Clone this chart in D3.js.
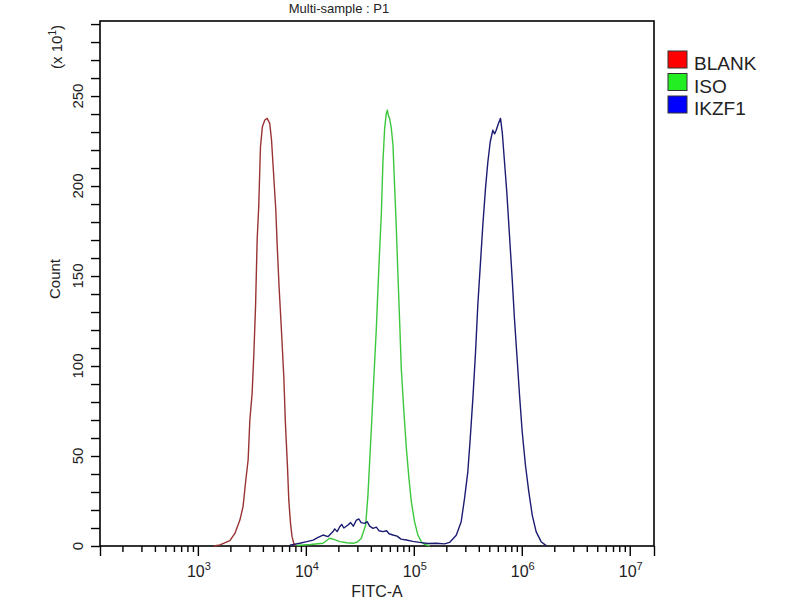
<!DOCTYPE html>
<html>
<head>
<meta charset="utf-8">
<script src="https://cdn.jsdelivr.net/npm/d3@7"></script>
<style>
  body { margin: 0; background: #fff; }
  svg { display: block; font-family: "Liberation Sans", Arial, sans-serif; }
</style>
</head>
<body>
<svg id="chart" width="800" height="600"></svg>
<script>
// FITC-A channel values and counts (x 10^1)
const blankX = [1410, 1600, 1980, 2200, 2450, 2620, 2780, 2920, 3030, 3180, 3300, 3420, 3540, 3660, 3800, 3960, 4170, 4380, 4630, 4810, 4980, 5270, 5420, 5650, 5940, 6250, 6470, 6760, 6950, 7210, 7450, 7730, 8070];
const blankY = [0, 0.6, 3.0, 7.0, 14.4, 21.9, 36.7, 47.8, 70, 84.8, 107, 133, 170, 188.5, 221.8, 233, 236.7, 237.6, 234.8, 225.6, 210.7, 186.7, 168, 144, 120, 94, 68, 44, 25.6, 12.6, 5.2, 1.5, 0];

const isoX = [8180, 11000, 14420, 16630, 18500, 20610, 24000, 27350, 30000, 32660, 35810, 37580, 38990, 40460, 41880, 43350, 44980, 46560, 48310, 50000, 51760, 53700, 55500, 56890, 58200, 59700, 61940, 64120, 66370, 68870, 71290, 73960, 76560, 80540, 85310, 90160, 94840, 101600, 109100, 117200, 125900, 140000];
const isoY = [0.3, 0.8, 1.5, 4.3, 3.5, 2.4, 1.8, 1.5, 2.2, 4.3, 11.7, 28, 46.8, 65.4, 84, 102, 121, 143, 165, 184, 213.5, 232, 240, 242.2, 239, 237.6, 232, 222.8, 200.5, 176.5, 150.6, 124.6, 98.7, 76.5, 54.3, 37.6, 24.6, 13.5, 6.1, 2.4, 0.9, 0];

const ikzfX = [7100, 8790, 10200, 11670, 13000, 14420, 16000, 17860, 18500, 19500, 20610, 21500, 22500, 24550, 26000, 27500, 29380, 31000, 32500, 35080, 37000, 39000, 41880, 45000, 47500, 51760, 56000, 59000, 64120, 70000, 76000, 85310, 98000, 113200, 135000, 161400, 192800, 214300, 247200, 274800, 295100, 316200, 333400, 352400, 373300, 391700, 415000, 435500, 461300, 485300, 510500, 539500, 560000, 579400, 608100, 635300, 659200, 691800, 726100, 769100, 814700, 855100, 905700, 952800, 1009000, 1081000, 1161000, 1250000, 1358000, 1510000, 1683000];
const ikzfY = [0.5, 1.5, 2.4, 3.3, 4.8, 6.1, 5.2, 8, 9.5, 8, 10.7, 12, 10, 11.7, 13, 11, 14.4, 15, 13, 12.6, 13.5, 11, 9.8, 10.5, 8.5, 8, 8.5, 6.8, 6.1, 5.5, 3.8, 3.3, 2.6, 2, 1.4, 1.5, 1.2, 2, 6, 13.5, 26.5, 41, 60, 82, 108, 134, 158, 178, 198.7, 213.5, 224.6, 231, 229, 231, 234.8, 237.6, 230, 213.5, 196.8, 172.8, 148.7, 126.5, 104, 84, 63.5, 45, 30.2, 17.2, 8, 2.4, 0.2];

const seriesNames = ["BLANK", "ISO", "IKZF1"];
const lineColors = ["#993333", "#3cc83c", "#1c1c72"];
const swatchColors = ["#ff0000", "#22ee22", "#0000ff"];

const xDecades = [3, 4, 5, 6, 7];
const yLabelTicks = [0, 50, 100, 150, 200, 250];

const svg = d3.select("#chart");
const margin = {top: 21, right: 146, bottom: 54, left: 100};
const width = 800 - margin.left - margin.right;
const height = 600 - margin.top - margin.bottom;

const x = d3.scaleLog().domain([124, 16777215]).range([margin.left, margin.left + width]);
const y = d3.scaleLinear().domain([0, 291.7]).range([margin.top + height, margin.top]);

// minor ticks: 2..9 in each decade, kept inside the domain
const minorTicks = [];
for (let e = 2; e <= 6; e++) {
    for (let k = 2; k <= 9; k++) {
        const v = k * Math.pow(10, e);
        if (v >= x.domain()[0] && v <= x.domain()[1]) minorTicks.push(v);
    }
}
const majorTicks = xDecades.map(e => Math.pow(10, e));

const g = svg.append("g");

// x axis ticks
g.append("g").attr("transform", `translate(0,${y(0)})`)
    .call(d3.axisBottom(x).tickValues(minorTicks).tickSize(6).tickFormat(""))
    .call(a => a.select(".domain").remove())
    .call(a => a.selectAll("line").attr("stroke-width", 1.4));
g.append("g").attr("transform", `translate(0,${y(0)})`)
    .call(d3.axisBottom(x).tickValues(majorTicks.concat(x.domain())).tickSize(10).tickFormat(""))
    .call(a => a.select(".domain").remove())
    .call(a => a.selectAll("line").attr("stroke-width", 1.4));

// x tick labels with superscript exponents
const xl = g.append("g").selectAll("text").data(xDecades).join("text")
    .attr("x", d => x(Math.pow(10, d)) + 1)
    .attr("y", y(0) + 31)
    .attr("text-anchor", "middle")
    .attr("font-size", 16)
    .attr("fill", "#222");
xl.append("tspan").text("10");
xl.append("tspan").attr("font-size", 11).attr("dy", -7).text(d => d);

// y axis ticks
g.append("g").attr("transform", `translate(${margin.left},0)`)
    .call(d3.axisLeft(y).tickValues(d3.range(0, 291, 10)).tickSize(9).tickFormat(""))
    .call(a => a.select(".domain").remove())
    .call(a => a.selectAll("line").attr("stroke-width", 1.4));

g.append("g").selectAll("text").data(yLabelTicks).join("text")
    .attr("transform", d => `translate(83,${y(d)}) rotate(-90)`)
    .attr("text-anchor", "middle")
    .attr("font-size", 15)
    .attr("fill", "#222")
    .text(d => d);

// plot frame
g.append("rect")
    .attr("x", margin.left).attr("y", margin.top)
    .attr("width", width).attr("height", height)
    .attr("fill", "none").attr("stroke", "#000").attr("stroke-width", 1.6);

// histograms
const line = d3.line().x(d => x(d[0])).y(d => y(d[1]));
const series = [
    d3.zip(blankX, blankY),
    d3.zip(isoX, isoY),
    d3.zip(ikzfX, ikzfY)
];
g.append("g").selectAll("path").data(series).join("path")
    .attr("d", line)
    .attr("fill", "none")
    .attr("stroke", (d, i) => lineColors[i])
    .attr("stroke-width", 1.4)
    .attr("stroke-linejoin", "round");

// titles
svg.append("text")
    .attr("x", 339).attr("y", 13)
    .attr("text-anchor", "middle")
    .attr("font-size", 13)
    .attr("fill", "#222")
    .text("Multi-sample : P1");

svg.append("text")
    .attr("x", margin.left + width / 2).attr("y", 597)
    .attr("text-anchor", "middle")
    .attr("font-size", 16)
    .attr("fill", "#222")
    .text("FITC-A");

svg.append("text")
    .attr("transform", "translate(60,279) rotate(-90)")
    .attr("text-anchor", "middle")
    .attr("font-size", 15)
    .attr("fill", "#222")
    .text("Count");

const unit = svg.append("text")
    .attr("transform", "translate(62,47) rotate(-90)")
    .attr("text-anchor", "middle")
    .attr("font-size", 15)
    .attr("fill", "#222");
unit.append("tspan").text("(x 10");
unit.append("tspan").attr("font-size", 10).attr("dy", -6).text("1");
unit.append("tspan").attr("dy", 6).text(")");

// legend
const legend = svg.append("g").selectAll("g").data(seriesNames).join("g")
    .attr("transform", (d, i) => `translate(668,${51 + i * 22.5})`);
legend.append("rect")
    .attr("width", 19).attr("height", 17)
    .attr("fill", (d, i) => swatchColors[i])
    .attr("stroke", "#333").attr("stroke-width", 1);
legend.append("text")
    .attr("x", 26).attr("y", 19)
    .attr("font-size", 19)
    .attr("fill", "#222")
    .text(d => d);
</script>
</body>
</html>
